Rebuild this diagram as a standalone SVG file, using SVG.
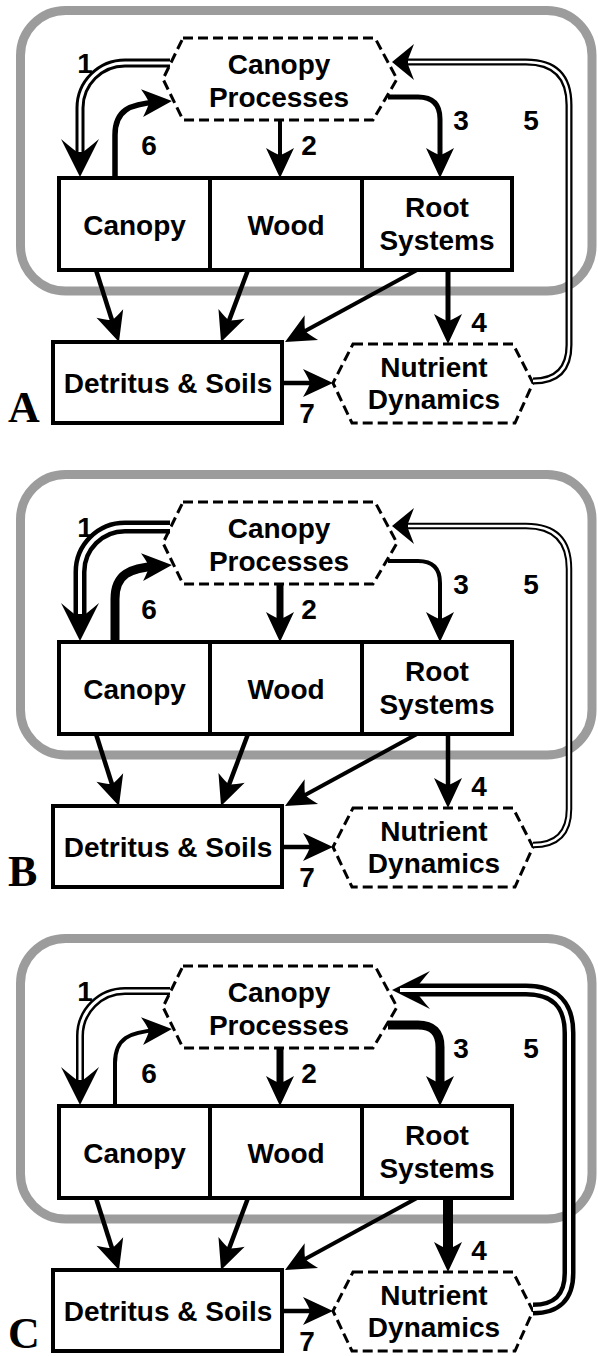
<svg xmlns="http://www.w3.org/2000/svg" width="598" height="1356" viewBox="0 0 598 1356">
<style>
.bg{fill:#fff}
.gray{fill:none;stroke:#9c9c9c;stroke-width:9}
.box{fill:#fff;stroke:#000;stroke-width:4}
.hex{fill:#fff;stroke:#000;stroke-width:3;stroke-dasharray:10 5;stroke-linejoin:miter}
.t{font-family:"Liberation Sans",Arial,sans-serif;font-weight:bold;font-size:28px;text-anchor:middle;fill:#000}
.pl{font-family:"Liberation Serif","Times New Roman",serif;font-weight:bold;font-size:44px;fill:#000}
.ln{fill:none;stroke:#000;marker-end:url(#h)}
.dO{fill:none;stroke:#000;marker-end:url(#hb)}
.dS{fill:none;stroke:#000;marker-end:url(#hs)}
.dI{fill:none;stroke:#fff}
</style>
<defs>
<marker id="h" markerUnits="userSpaceOnUse" orient="auto" viewBox="-20 -20 40 40" markerWidth="40" markerHeight="40" refX="0" refY="0" overflow="visible">
<path d="M15,0 L-15,-14 Q-9,-4 -8,0 Q-9,4 -15,14 Z" fill="#000"/>
</marker>
<marker id="hb" markerUnits="userSpaceOnUse" orient="auto" viewBox="-30 -30 60 60" markerWidth="60" markerHeight="60" refX="0" refY="0" overflow="visible">
<path d="M16,0 L-22,-19 Q-10,-5 -7,0 Q-10,5 -22,19 Z" fill="#000"/>
</marker>
<marker id="hs" markerUnits="userSpaceOnUse" orient="auto" viewBox="-30 -30 60 60" markerWidth="60" markerHeight="60" refX="0" refY="0" overflow="visible">
<path d="M14,0 L-8,-18 Q-3,-5 -1,0 Q-3,5 -8,18 Z" fill="#000"/>
</marker>
</defs>
<rect class="bg" x="0" y="0" width="598" height="1356"/>

<!-- Panel A -->
<g id="panelA">
<rect class="gray" x="20.5" y="10.5" width="571.5" height="280.5" rx="45"/>
<g id="A-canopyProcesses"><polygon class="hex" points="183,38 375,38 397,79 373,120 183,120 163,79"/><text class="t" x="279" y="74">Canopy</text><text class="t" x="279" y="107">Processes</text></g>
<g id="A-canopy"><rect class="box" x="59" y="178" width="151" height="92"/><text class="t" x="134.5" y="235">Canopy</text></g>
<g id="A-wood"><rect class="box" x="210" y="178" width="152" height="92"/><text class="t" x="286" y="235">Wood</text></g>
<g id="A-root"><rect class="box" x="362" y="178" width="150" height="92"/><text class="t" x="437" y="217">Root</text><text class="t" x="437" y="250">Systems</text></g>
<g id="A-detritus"><rect class="box" x="53" y="342" width="229" height="81"/><text class="t" x="168" y="393">Detritus &amp; Soils</text></g>
<g id="A-nutrient"><polygon class="hex" points="353,344 513,344 533,383 515,423 352,423 333,383"/><text class="t" x="434" y="377">Nutrient</text><text class="t" x="434" y="409">Dynamics</text></g>
<g id="A-connectors">
<path class="dO" style="stroke-width:9" d="M170,63 L125,63 A45,45 0 0 0 80,108 L80,161"/>
<path class="dI" style="stroke-width:3" d="M170,63 L125,63 A45,45 0 0 0 80,108 L80,152"/>
<path class="ln" style="stroke-width:5.5" d="M115,178 L115,135 C115,110 130,104 157,102"/>
<path class="ln" style="stroke-width:4" d="M280,120 L280,163"/>
<path class="ln" style="stroke-width:5" d="M388,97 L418,97 Q440,97 440,119 L440,163"/>
<path class="ln" style="stroke-width:5" d="M448,270 L448,329"/>
<path class="dS" style="stroke-width:7" d="M533,381 Q569,381 569,345 L569,105 Q569,62 526,62 L406,62"/>
<path class="dI" style="stroke-width:2.5" d="M533,381 Q569,381 569,345 L569,105 Q569,62 526,62 L408,62"/>
<path class="ln" style="stroke-width:4.5" d="M282,383 L318,383"/>
<path class="ln" style="stroke-width:4.5" d="M96,270 L114.4,327.7"/>
<path class="ln" style="stroke-width:4.5" d="M248,270 L226.3,327.9"/>
<path class="ln" style="stroke-width:4" d="M417,270 L298.2,334.8"/>
</g>
<g id="A-labels">
<text class="t" x="85" y="73">1</text><text class="t" x="309" y="155">2</text><text class="t" x="461" y="130">3</text><text class="t" x="479" y="332">4</text><text class="t" x="531" y="130">5</text><text class="t" x="149" y="155">6</text><text class="t" x="307" y="423">7</text>
<text class="pl" x="8" y="422">A</text>
</g>
</g>

<!-- Panel B -->
<g id="panelB" transform="translate(0,464)">
<rect class="gray" x="20.5" y="10.5" width="571.5" height="280.5" rx="45"/>
<g id="B-canopyProcesses"><polygon class="hex" points="183,38 375,38 397,79 373,120 183,120 163,79"/><text class="t" x="279" y="74">Canopy</text><text class="t" x="279" y="107">Processes</text></g>
<g id="B-canopy"><rect class="box" x="59" y="178" width="151" height="92"/><text class="t" x="134.5" y="235">Canopy</text></g>
<g id="B-wood"><rect class="box" x="210" y="178" width="152" height="92"/><text class="t" x="286" y="235">Wood</text></g>
<g id="B-root"><rect class="box" x="362" y="178" width="150" height="92"/><text class="t" x="437" y="217">Root</text><text class="t" x="437" y="250">Systems</text></g>
<g id="B-detritus"><rect class="box" x="53" y="342" width="229" height="81"/><text class="t" x="168" y="393">Detritus &amp; Soils</text></g>
<g id="B-nutrient"><polygon class="hex" points="353,344 513,344 533,383 515,423 352,423 333,383"/><text class="t" x="434" y="377">Nutrient</text><text class="t" x="434" y="409">Dynamics</text></g>
<g id="B-connectors">
<path class="dO" style="stroke-width:13" d="M170,63 L125,63 A45,45 0 0 0 80,108 L80,161"/>
<path class="dI" style="stroke-width:4" d="M170,63 L125,63 A45,45 0 0 0 80,108 L80,150"/>
<path class="ln" style="stroke-width:9" d="M115,178 L115,135 C115,110 130,104 157,102"/>
<path class="ln" style="stroke-width:7" d="M280,120 L280,163"/>
<path class="ln" style="stroke-width:4" d="M388,97 L418,97 Q440,97 440,119 L440,163"/>
<path class="ln" style="stroke-width:4.5" d="M448,270 L448,329"/>
<path class="dS" style="stroke-width:6.5" d="M533,381 Q569,381 569,345 L569,105 Q569,62 526,62 L406,62"/>
<path class="dI" style="stroke-width:2.5" d="M533,381 Q569,381 569,345 L569,105 Q569,62 526,62 L408,62"/>
<path class="ln" style="stroke-width:4.5" d="M282,383 L318,383"/>
<path class="ln" style="stroke-width:4.5" d="M96,270 L114.4,327.7"/>
<path class="ln" style="stroke-width:4.5" d="M248,270 L226.3,327.9"/>
<path class="ln" style="stroke-width:4" d="M417,270 L298.2,334.8"/>
</g>
<g id="B-labels">
<text class="t" x="85" y="73">1</text><text class="t" x="309" y="155">2</text><text class="t" x="461" y="130">3</text><text class="t" x="479" y="332">4</text><text class="t" x="531" y="130">5</text><text class="t" x="149" y="155">6</text><text class="t" x="307" y="423">7</text>
<text class="pl" x="8" y="422">B</text>
</g>
</g>

<!-- Panel C -->
<g id="panelC" transform="translate(0,928)">
<rect class="gray" x="20.5" y="10.5" width="571.5" height="280.5" rx="45"/>
<g id="C-canopyProcesses"><polygon class="hex" points="183,38 375,38 397,79 373,120 183,120 163,79"/><text class="t" x="279" y="74">Canopy</text><text class="t" x="279" y="107">Processes</text></g>
<g id="C-canopy"><rect class="box" x="59" y="178" width="151" height="92"/><text class="t" x="134.5" y="235">Canopy</text></g>
<g id="C-wood"><rect class="box" x="210" y="178" width="152" height="92"/><text class="t" x="286" y="235">Wood</text></g>
<g id="C-root"><rect class="box" x="362" y="178" width="150" height="92"/><text class="t" x="437" y="217">Root</text><text class="t" x="437" y="250">Systems</text></g>
<g id="C-detritus"><rect class="box" x="53" y="342" width="229" height="81"/><text class="t" x="168" y="393">Detritus &amp; Soils</text></g>
<g id="C-nutrient"><polygon class="hex" points="353,344 513,344 533,383 515,423 352,423 333,383"/><text class="t" x="434" y="377">Nutrient</text><text class="t" x="434" y="409">Dynamics</text></g>
<g id="C-connectors">
<path class="dO" style="stroke-width:8" d="M170,63 L125,63 A45,45 0 0 0 80,108 L80,161"/>
<path class="dI" style="stroke-width:3" d="M170,63 L125,63 A45,45 0 0 0 80,108 L80,152"/>
<path class="ln" style="stroke-width:4" d="M115,178 L115,135 C115,110 130,104 157,102"/>
<path class="ln" style="stroke-width:7" d="M280,120 L280,163"/>
<path class="ln" style="stroke-width:9" d="M388,97 L418,97 Q440,97 440,119 L440,163"/>
<path class="ln" style="stroke-width:10" d="M448,270 L448,329"/>
<path class="dO" style="stroke-width:13" d="M533,381 Q569,381 569,345 L569,105 Q569,62 526,62 L408,62"/>
<path class="dI" style="stroke-width:4" d="M533,381 Q569,381 569,345 L569,105 Q569,62 526,62 L400,62"/>
<path class="ln" style="stroke-width:4.5" d="M282,383 L318,383"/>
<path class="ln" style="stroke-width:4.5" d="M96,270 L114.4,327.7"/>
<path class="ln" style="stroke-width:4.5" d="M248,270 L226.3,327.9"/>
<path class="ln" style="stroke-width:4" d="M417,270 L298.2,334.8"/>
</g>
<g id="C-labels">
<text class="t" x="85" y="73">1</text><text class="t" x="309" y="155">2</text><text class="t" x="461" y="130">3</text><text class="t" x="479" y="332">4</text><text class="t" x="531" y="130">5</text><text class="t" x="149" y="155">6</text><text class="t" x="307" y="423">7</text>
<text class="pl" x="8" y="420">C</text>
</g>
</g>
</svg>
